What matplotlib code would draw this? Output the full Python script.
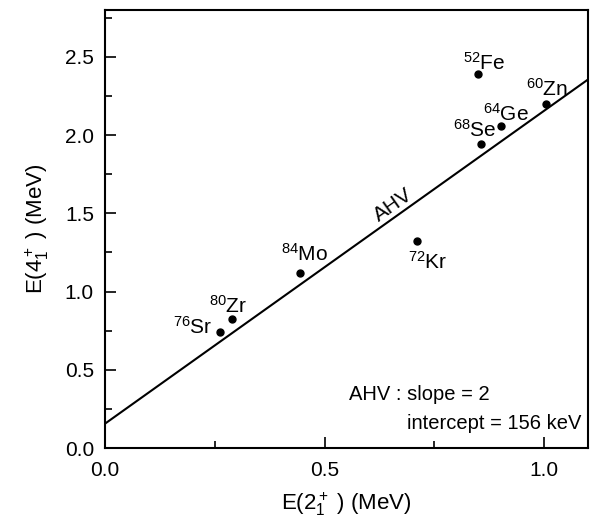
import matplotlib
matplotlib.use("Agg")
import matplotlib.pyplot as plt
import numpy as np
from matplotlib.ticker import MultipleLocator

plt.rcParams['font.family'] = ['Liberation Sans', 'DejaVu Sans']
plt.rcParams['mathtext.fontset'] = 'custom'
plt.rcParams['mathtext.rm'] = 'Liberation Sans'
plt.rcParams['mathtext.it'] = 'Liberation Sans'
plt.rcParams['mathtext.default'] = 'regular'

nuclei = ['76', '80', '84', '72', '68', '64', '60', '52']
elements = ['Sr', 'Zr', 'Mo', 'Kr', 'Se', 'Ge', 'Zn', 'Fe']
e2 = [0.261, 0.290, 0.444, 0.710, 0.855, 0.902, 1.005, 0.850]
e4 = [0.744, 0.827, 1.120, 1.320, 1.940, 2.060, 2.200, 2.390]
slope = 2.0
intercept = 0.156

fig = plt.figure(figsize=(5.9, 5.18), dpi=100)
ax = fig.add_axes([0.178, 0.135, 0.819, 0.846])

xl = np.array([0.0, 1.1])
ax.plot(xl, slope * xl + intercept, color='black', lw=1.5)
ax.plot(e2, e4, 'o', color='black', ms=5)

# label offsets (points) relative to marker centre, baseline anchored
offsets = {
    'Sr': (-5, -1.5, 'right'),
    'Zr': (-17, 4.3, 'left'),
    'Mo': (-14, 8.6, 'left'),
    'Kr': (-6.5, -20, 'left'),
    'Se': (-20, 5.5, 'left'),
    'Ge': (-13.5, 3.8, 'left'),
    'Zn': (-14.5, 5.8, 'left'),
    'Fe': (-11, 3, 'left'),
}
for n, el, x, y in zip(nuclei, elements, e2, e4):
    dx, dy, ha = offsets[el]
    ax.annotate(r'$^{%s}$%s' % (n, el), (x, y), xytext=(dx, dy),
                textcoords='offset points', ha=ha, va='baseline', fontsize=15)

ax.text(0.669, 1.505, 'AHV', rotation=35.3, rotation_mode='anchor',
        ha='center', va='bottom', fontsize=15)
ax.text(0.556, 0.34, 'AHV : slope = 2', fontsize=14.5, ha='left', va='center')
ax.text(0.687, 0.16, 'intercept = 156 keV', fontsize=14.5, ha='left', va='center')

ax.set_xlim(0, 1.1)
ax.set_ylim(0, 2.8)
ax.xaxis.set_major_locator(MultipleLocator(0.5))
ax.xaxis.set_minor_locator(MultipleLocator(0.25))
ax.yaxis.set_major_locator(MultipleLocator(0.5))
ax.yaxis.set_minor_locator(MultipleLocator(0.25))
ax.tick_params(which='both', direction='in', labelsize=15, width=1.2)
ax.tick_params(which='major', length=8)
ax.tick_params(which='minor', length=5)
ax.tick_params(axis='x', pad=9)
ax.tick_params(axis='y', pad=8)
ax.xaxis.set_major_formatter(plt.FuncFormatter(lambda v, p: '%.1f' % v))
ax.yaxis.set_major_formatter(plt.FuncFormatter(lambda v, p: '%.1f' % v))
for s in ax.spines.values():
    s.set_linewidth(1.5)

ax.set_xlabel(r'E(2$_1^+$ ) (MeV)', fontsize=16, labelpad=8)
ax.set_ylabel(r'E(4$_1^+$ ) (MeV)', fontsize=16, labelpad=10)

fig.savefig('out.png', dpi=100)
